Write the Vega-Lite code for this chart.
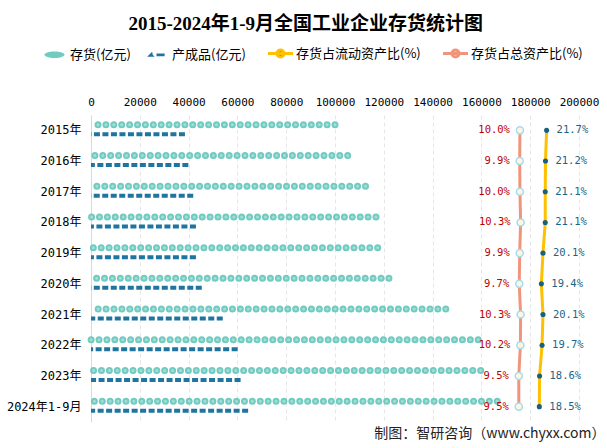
{
  "$schema": "https://vega.github.io/schema/vega-lite/v6.json",
  "width": 488,
  "height": 307,
  "autosize": {"type": "none"},
  "padding": {"left": 91, "top": 115, "right": 28, "bottom": 26},
  "background": "#ffffff",
  "title": {
    "text": "2015-2024年1-9月全国工业企业存货统计图",
    "font": "Liberation Serif, Noto Sans CJK SC",
    "fontSize": 19,
    "fontWeight": "bold",
    "color": "#000000",
    "anchor": "middle",
    "frame": "bounds",
    "offset": 13
  },
  "config": {
    "view": {"stroke": null},
    "font": "Noto Sans CJK SC"
  },
  "data": {
    "values": [
      {"year": "2015年", "inv": 100000, "fin": 38500, "cur": 0.217, "tot": 0.100},
      {"year": "2016年", "inv": 105200, "fin": 39900, "cur": 0.212, "tot": 0.099},
      {"year": "2017年", "inv": 112500, "fin": 41900, "cur": 0.211, "tot": 0.100},
      {"year": "2018年", "inv": 116800, "fin": 43000, "cur": 0.211, "tot": 0.103},
      {"year": "2019年", "inv": 117500, "fin": 43000, "cur": 0.201, "tot": 0.099},
      {"year": "2020年", "inv": 122100, "fin": 45400, "cur": 0.194, "tot": 0.097},
      {"year": "2021年", "inv": 145400, "fin": 54000, "cur": 0.201, "tot": 0.103},
      {"year": "2022年", "inv": 158700, "fin": 60100, "cur": 0.197, "tot": 0.102},
      {"year": "2023年", "inv": 159700, "fin": 61300, "cur": 0.186, "tot": 0.095},
      {"year": "2024年1-9月", "inv": 166500, "fin": 64400, "cur": 0.185, "tot": 0.095}
    ]
  },
  "encoding": {
    "y": {
      "field": "year",
      "type": "nominal",
      "sort": null,
      "axis": {
        "title": null,
        "ticks": false,
        "domain": true,
        "domainColor": "#d9d9d9",
        "labelFont": "DejaVu Sans Mono, Noto Sans CJK SC",
        "labelFontSize": 12,
        "labelColor": "#000000",
        "labelPadding": 10,
        "grid": false
      }
    }
  },
  "layer": [
    {
      "layer": [
        {
          "mark": {"type": "rule", "strokeWidth": 7, "strokeCap": "round", "strokeDash": [0, 7.9], "yOffset": -5.5},
          "encoding": {
            "x": {
              "field": "inv",
              "type": "quantitative",
              "scale": {"domain": [0, 200000]},
              "axis": {
                "orient": "top",
                "title": null,
                "format": "d",
                "values": [0, 20000, 40000, 60000, 80000, 100000, 120000, 140000, 160000, 180000, 200000],
                "ticks": false,
                "domain": false,
                "labelFont": "DejaVu Sans Mono",
                "labelFontSize": 11,
                "labelColor": "#000000",
                "labelPadding": 8,
                "labelFlush": false,
                "labelOverlap": false,
                "grid": true,
                "gridColor": "#e6e6e6",
                "gridDash": [4, 3]
              }
            },
            "x2": {"datum": 0},
            "color": {
              "datum": "存货(亿元)",
              "scale": {
                "domain": ["存货(亿元)", "产成品(亿元)", "存货占流动资产比(%)", "存货占总资产比(%)"],
                "range": ["#72cbc0", "#1f74a0", "#ffc000", "#f0957c"]
              },
              "legend": {
                "orient": "none",
                "legendX": -43,
                "legendY": -68,
                "direction": "horizontal",
                "title": null,
                "symbolSize": 625,
                "symbolType": "stroke",
                "labelFont": "Noto Sans CJK SC",
                "labelFontSize": 13,
                "labelColor": "#000000",
                "labelOffset": 9,
                "columnPadding": 16,
                "encode": {
                  "symbols": {
                    "update": {
                      "shape": {"signal": "datum.value === '存货(亿元)' ? 'M-0.8,0A0.8,0.26,0,1,0,0.8,0A0.8,0.26,0,1,0,-0.8,0Z' : datum.value === '产成品(亿元)' ? 'M-0.75,0.15L-0.35,-0.25L-0.3,0L-0.15,0.15L-0.45,0.15ZM0,-0.1L0.65,-0.1L0.65,0.12L0,0.12Z' : 'M-1,0L1,0M0.28,0A0.28,0.28,0,1,1,-0.28,0A0.28,0.28,0,1,1,0.28,0Z'"},
                      "fill": {"signal": "datum.value === '存货(亿元)' ? '#72cbc0' : datum.value === '产成品(亿元)' ? '#1f74a0' : datum.value === '存货占流动资产比(%)' ? '#17607f' : '#fdf7df'"},
                      "stroke": {"signal": "datum.value === '存货占流动资产比(%)' ? '#ffc000' : datum.value === '存货占总资产比(%)' ? '#f0957c' : 'transparent'"},
                      "strokeWidth": {"signal": "datum.value === '存货占流动资产比(%)' || datum.value === '存货占总资产比(%)' ? 3 : 0"},
                      "opacity": {"value": 1}
                    }
                  }
                }
              }
            }
          }
        },
        {
          "mark": {"type": "rule", "strokeWidth": 3, "strokeCap": "round", "strokeDash": [0, 7.9], "color": "#a5ded6", "yOffset": -5.5},
          "encoding": {
            "x": {"field": "inv", "type": "quantitative", "title": null},
            "x2": {"datum": 0}
          }
        },
        {
          "mark": {"type": "rule", "strokeWidth": 4, "strokeDash": [6, 2.5], "yOffset": 4},
          "encoding": {
            "x": {"field": "fin", "type": "quantitative", "title": null},
            "x2": {"datum": 0},
            "color": {"datum": "产成品(亿元)"}
          }
        }
      ]
    },
    {
      "layer": [
        {
          "mark": {"type": "line", "strokeWidth": 3},
          "encoding": {
            "x": {
              "field": "tot",
              "type": "quantitative",
              "scale": {"domain": [-1.781, 0.359], "nice": false, "zero": false},
              "axis": {
                "orient": "bottom",
                "labels": false,
                "ticks": false,
                "domain": false,
                "grid": false,
                "title": "制图：智研咨询（www.chyxx.com）",
                "titleFont": "Noto Sans CJK SC",
                "titleFontSize": 14,
                "titleFontWeight": "normal",
                "titleColor": "#222222",
                "titleAnchor": "end",
                "titleAlign": "right",
                "titleBaseline": "middle",
                "titleX": 514,
                "titleY": 11
              }
            },
            "order": {"field": "year", "type": "ordinal"},
            "color": {"datum": "存货占总资产比(%)"}
          }
        },
        {
          "mark": {"type": "line", "strokeWidth": 3},
          "encoding": {
            "x": {"field": "cur", "type": "quantitative", "title": "制图：智研咨询（www.chyxx.com）"},
            "order": {"field": "year", "type": "ordinal"},
            "color": {"datum": "存货占流动资产比(%)"}
          }
        },
        {
          "mark": {"type": "point", "filled": true, "fill": "#fdf7df", "stroke": "#a7d9ef", "strokeWidth": 1.5, "size": 50, "opacity": 1},
          "encoding": {
            "x": {"field": "tot", "type": "quantitative", "title": "制图：智研咨询（www.chyxx.com）"}
          }
        },
        {
          "mark": {"type": "point", "filled": true, "color": "#17607f", "size": 26, "opacity": 1},
          "encoding": {
            "x": {"field": "cur", "type": "quantitative", "title": "制图：智研咨询（www.chyxx.com）"}
          }
        },
        {
          "mark": {"type": "text", "align": "right", "baseline": "middle", "dx": -10, "font": "DejaVu Sans Mono", "fontSize": 10.5, "color": "#c00000"},
          "encoding": {
            "x": {"field": "tot", "type": "quantitative", "title": "制图：智研咨询（www.chyxx.com）"},
            "text": {"field": "tot", "type": "quantitative", "format": ".1%"}
          }
        },
        {
          "mark": {"type": "text", "align": "left", "baseline": "middle", "dx": 10, "font": "DejaVu Sans Mono", "fontSize": 10.5, "color": "#1a6585"},
          "encoding": {
            "x": {"field": "cur", "type": "quantitative", "title": "制图：智研咨询（www.chyxx.com）"},
            "text": {"field": "cur", "type": "quantitative", "format": ".1%"}
          }
        }
      ]
    }
  ],
  "resolve": {"scale": {"x": "independent"}, "axis": {"x": "independent"}}
}
